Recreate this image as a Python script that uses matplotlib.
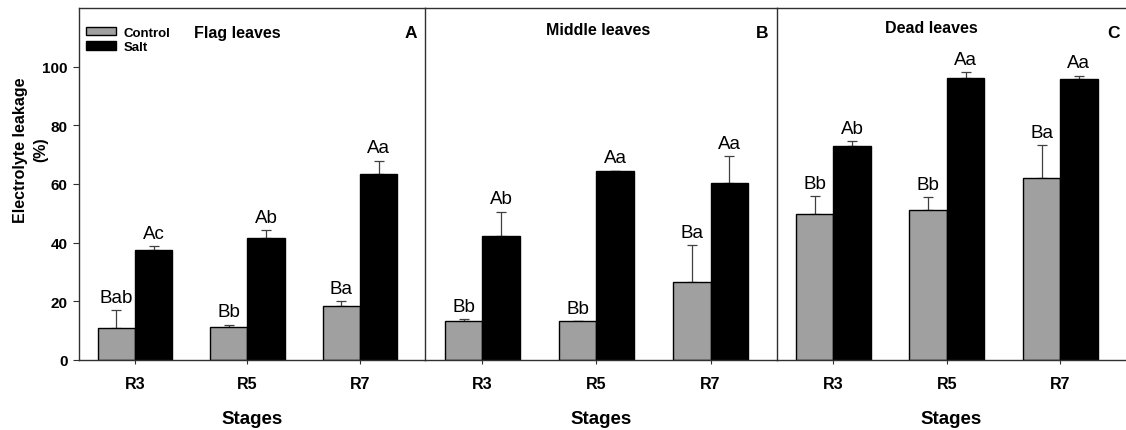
import matplotlib
matplotlib.use("Agg")
import matplotlib.pyplot as plt
import numpy as np

plt.rcParams['font.family'] = ['Liberation Sans', 'DejaVu Sans']

stages = ['R3', 'R5', 'R7']
panel_titles = ['Flag leaves', 'Middle leaves', 'Dead leaves']
panel_letters = ['A', 'B', 'C']

# Electrolyte leakage (%) per panel: flag, middle, dead leaves
control_means = [[10.7, 11.0, 18.2], [13.2, 13.2, 26.7], [49.8, 51.0, 62.0]]
control_errs = [[6.2, 1.0, 1.9], [0.7, 0.0, 12.3], [6.0, 4.5, 11.2]]
salt_means = [[37.4, 41.7, 63.3], [42.3, 64.6, 60.5], [73.1, 96.3, 95.9]]
salt_errs = [[1.3, 2.6, 4.7], [8.3, 0.0, 8.9], [1.5, 1.8, 1.1]]
control_letters = [['Bab', 'Bb', 'Ba'], ['Bb', 'Bb', 'Ba'], ['Bb', 'Bb', 'Ba']]
salt_letters = [['Ac', 'Ab', 'Aa'], ['Ab', 'Aa', 'Aa'], ['Ab', 'Aa', 'Aa']]

W, H = 1126, 431
fig = plt.figure(figsize=(W / 100, H / 100), dpi=100)

lefts = [78.7, 425.3, 776.7]
rights = [425.3, 776.7, 1126.0]
top_px, bottom_px = 9.3, 360.7

x = np.arange(1, 4)
width = 0.33
spine_col = '#303030'

for i in range(3):
    ax = fig.add_axes([lefts[i] / W, 1 - bottom_px / H,
                       (rights[i] - lefts[i]) / W, (bottom_px - top_px) / H])
    ax.bar(x - width / 2, control_means[i], width, color='#a0a0a0',
           edgecolor='black', linewidth=1.0, label='Control', zorder=2)
    ax.bar(x + width / 2, salt_means[i], width, color='black',
           edgecolor='black', linewidth=1.0, label='Salt', zorder=2)
    ax.errorbar(x - width / 2, control_means[i],
                yerr=[np.zeros(3), control_errs[i]], fmt='none',
                ecolor='#404040', elinewidth=0.9, capsize=3.5, capthick=0.9, zorder=1)
    ax.errorbar(x + width / 2, salt_means[i],
                yerr=[np.zeros(3), salt_errs[i]], fmt='none',
                ecolor='#404040', elinewidth=0.9, capsize=3.5, capthick=0.9, zorder=1)

    for j in range(3):
        ax.annotate(control_letters[i][j],
                    xy=(x[j] - width / 2, control_means[i][j] + control_errs[i][j]),
                    xytext=(0, 3), textcoords='offset points',
                    ha='center', va='bottom', fontsize=13.5)
        ax.annotate(salt_letters[i][j],
                    xy=(x[j] + width / 2, salt_means[i][j] + salt_errs[i][j]),
                    xytext=(0, 3), textcoords='offset points',
                    ha='center', va='bottom', fontsize=13.5)

    ax.set_xlim(0.5, 3.58)
    ax.set_ylim(0, 120)
    ax.set_xticks(x)
    ax.set_xticklabels(stages, fontsize=11.5, fontweight='bold')
    ax.tick_params(axis='x', length=3, width=0.8, color=spine_col, pad=8.5)
    ax.set_xlabel('Stages', fontsize=13.5, fontweight='bold', labelpad=14)

    for s in ['left', 'top', 'bottom']:
        ax.spines[s].set_color(spine_col)
        ax.spines[s].set_linewidth(1.0)
    ax.spines['right'].set_visible(False)

    if i == 0:
        ax.set_yticks([0, 20, 40, 60, 80, 100])
        ax.set_yticklabels(['0', '20', '40', '60', '80', '100'],
                           fontsize=11, fontweight='bold')
        ax.tick_params(axis='y', length=4, width=0.8, color=spine_col, pad=4)
        ax.set_ylabel('Electrolyte leakage\n(%)', fontsize=11.5,
                      fontweight='bold', linespacing=1.45)
        ax.yaxis.set_label_coords(-0.088, 0.60)
        ax.legend(loc='upper left', bbox_to_anchor=(0.02, 0.948), frameon=False,
                  handlelength=2.3, handleheight=0.6,
                  labelspacing=0.2, borderpad=0, borderaxespad=0,
                  handletextpad=0.6, prop={'weight': 'bold', 'size': 9.5})
    else:
        ax.set_yticks([])

    title_x = [0.457, 0.491, 0.444][i]
    title_y = [0.932, 0.939, 0.946][i]
    ax.text(title_x, title_y, panel_titles[i], transform=ax.transAxes,
            ha='center', va='center', fontsize=11.5, fontweight='bold')
    ax.text([0.958, 0.958, 0.963][i], 0.932, panel_letters[i],
            transform=ax.transAxes, ha='center', va='center',
            fontsize=12.5, fontweight='bold')

fig.savefig('out.png', dpi=100)
